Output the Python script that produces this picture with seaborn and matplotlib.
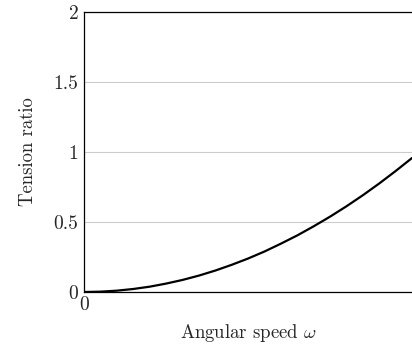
import matplotlib
matplotlib.use('Agg')
import matplotlib.pyplot as plt
import seaborn as sns
import pandas as pd

# valores
omega = [0.0, 0.05, 0.1, 0.15, 0.2, 0.25, 0.3, 0.35, 0.4, 0.45, 0.5,
         0.55, 0.6, 0.65, 0.7, 0.75, 0.8, 0.85, 0.9, 0.95, 1.0]
tension_ratio = [0.0, 0.0024, 0.0096, 0.0215, 0.038, 0.060, 0.086, 0.117, 0.153, 0.194, 0.239,
                 0.289, 0.345, 0.404, 0.469, 0.538, 0.612, 0.691, 0.775, 0.864, 0.957]
y_ticks = [0, 0.5, 1, 1.5, 2]
y_tick_labels = ['0', '0.5', '1', '1.5', '2']
x_ticks = [0]
x_tick_labels = ['0']

df = pd.DataFrame({'omega': omega, 'ratio': tension_ratio})

sns.set_style('white')
plt.rcParams['font.family'] = ['cmr10', 'DejaVu Serif']
plt.rcParams['mathtext.fontset'] = 'cm'
plt.rcParams['axes.unicode_minus'] = False

fig = plt.figure(figsize=(4.12, 3.45), dpi=100)
ax = fig.add_axes([0.2039, 0.1536, 0.7961, 0.8116])

sns.lineplot(data=df, x='omega', y='ratio', color='black', linewidth=1.6, ax=ax)

ax.set_xlim(0, 1.0)
ax.set_ylim(0, 2)
ax.set_yticks(y_ticks)
ax.set_yticklabels(y_tick_labels)
ax.set_xticks(x_ticks)
ax.set_xticklabels(x_tick_labels)
ax.tick_params(length=0, labelsize=14, pad=4)
ax.tick_params(axis='x', pad=3)

ax.yaxis.grid(True, color='#cccccc', linewidth=0.8)
ax.xaxis.grid(False)
ax.set_axisbelow(True)

for side in ['left', 'bottom', 'top']:
    ax.spines[side].set_color('black')
    ax.spines[side].set_linewidth(0.9)
ax.spines['right'].set_visible(False)

ax.set_xlabel(r'Angular speed $\omega$', fontsize=13.5, labelpad=6)
ax.set_ylabel('Tension ratio', fontsize=13.5, labelpad=12)

fig.savefig('out.png', dpi=100)
